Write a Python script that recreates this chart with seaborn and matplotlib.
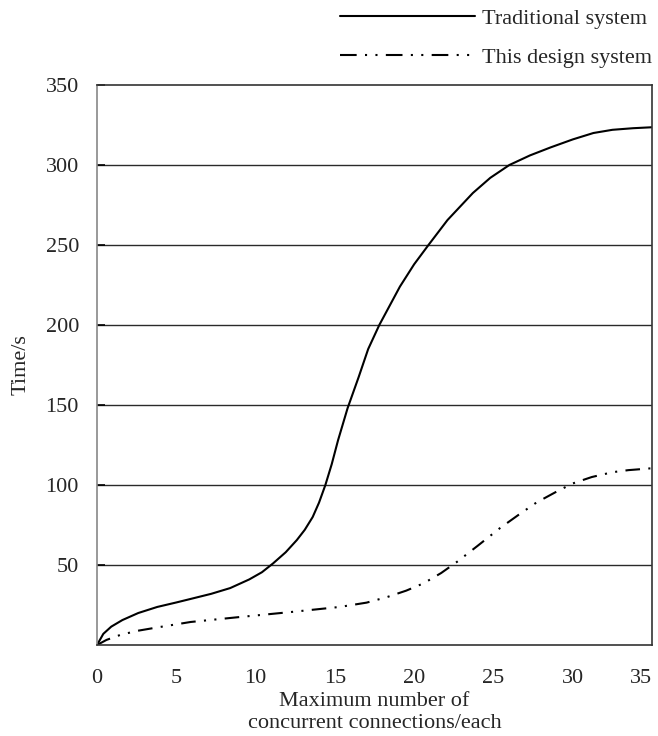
import pandas as pd
import matplotlib.pyplot as plt
import seaborn as sns

# values
trad_x = [0, 0.4, 0.9, 1.6, 2.6, 3.8, 5.0, 5.9, 7.2, 8.4, 9.6, 10.4, 11.1, 11.9, 12.6, 13.1, 13.6, 14.0, 14.4,
          14.8, 15.2, 15.8, 16.5, 17.1, 17.8, 19.1, 20.0, 20.9, 22.1, 23.7, 24.8, 26.0, 27.3, 28.6, 30.0, 31.3, 32.5, 33.8, 35]
trad_y = [0, 7, 11.5, 15.6, 20, 23.8, 26.6, 28.8, 32, 35.6, 41, 45.5, 51, 58, 65.6, 72, 80, 89, 100,
          113, 128, 148, 167.5, 185, 200, 224, 238, 250, 265.6, 282.5, 292, 300, 306, 311, 316, 320, 322, 323, 323.6]
new_x = [0, 0.6, 1.45, 2.5, 3.8, 5.9, 9.0, 12.2, 15.3, 17.0, 18.3, 19.5, 20.6, 21.7, 22.7, 24.0, 25.4, 26.6, 27.7,
         29.0, 30.0, 31.2, 32.5, 33.5, 34.4, 35]
new_y = [0, 3.2, 6.25, 8.8, 11, 14.4, 17.5, 20.6, 23.8, 26.5, 30, 34, 38.6, 45, 52, 62, 73, 81.5, 89,
         96, 101, 105, 108, 109.3, 110, 110.5]
labels = ["Traditional system", "This design system"]

df = pd.concat([
    pd.DataFrame({"x": trad_x, "y": trad_y, "system": labels[0]}),
    pd.DataFrame({"x": new_x, "y": new_y, "system": labels[1]}),
], ignore_index=True)

sns.set_theme(style="white")
plt.rcParams['font.family'] = ['Liberation Serif', 'DejaVu Serif']

fig = plt.figure(figsize=(6.58, 7.36), dpi=100)
ax = fig.add_axes([0.1474, 0.1236, 0.8436, 0.7609])

dash = (7, 4, 1, 4, 1, 4)
sns.lineplot(data=df, x="x", y="y", hue="system", style="system",
             palette={labels[0]: "black", labels[1]: "black"},
             dashes={labels[0]: "", labels[1]: dash},
             linewidth=1.5, sort=False, estimator=None, ax=ax, legend=False)

ax.set_xlim(0, 35)
ax.set_ylim(0, 350)
ax.set_xticks(range(0, 36, 5))
ax.set_yticks(range(50, 351, 50))
ax.tick_params(axis="x", labelsize=16, length=0, pad=17)
ax.tick_params(axis="y", labelsize=16, direction="in", length=6, width=1.2,
               color="black", left=True, pad=13)
ax.get_xticklabels()[-1].set_horizontalalignment("right")
for y in range(50, 301, 50):
    ax.axhline(y, color="#2a2a2a", lw=1.0, zorder=0)
for s in ax.spines.values():
    s.set_color("#333333")
    s.set_linewidth(1.2)
ax.spines["left"].set_color("#888888")
ax.set_xlabel("Maximum number of\nconcurrent connections/each", fontsize=16,
              labelpad=3, linespacing=1.2)
ax.set_ylabel("Time/s", fontsize=16, labelpad=11)

h1, = ax.plot([], [], color="black", lw=1.5)
h2, = ax.plot([], [], color="black", lw=1.5, dashes=(8, 4, 1, 4, 1, 4))
fig.legend([h1, h2], labels, loc="upper right",
           bbox_to_anchor=(652 / 658, 1 - 8 / 736),
           frameon=False, fontsize=16, handlelength=6.1, labelspacing=0.83,
           handletextpad=0.3, borderpad=0, borderaxespad=0)

fig.savefig("out.png", dpi=100)
